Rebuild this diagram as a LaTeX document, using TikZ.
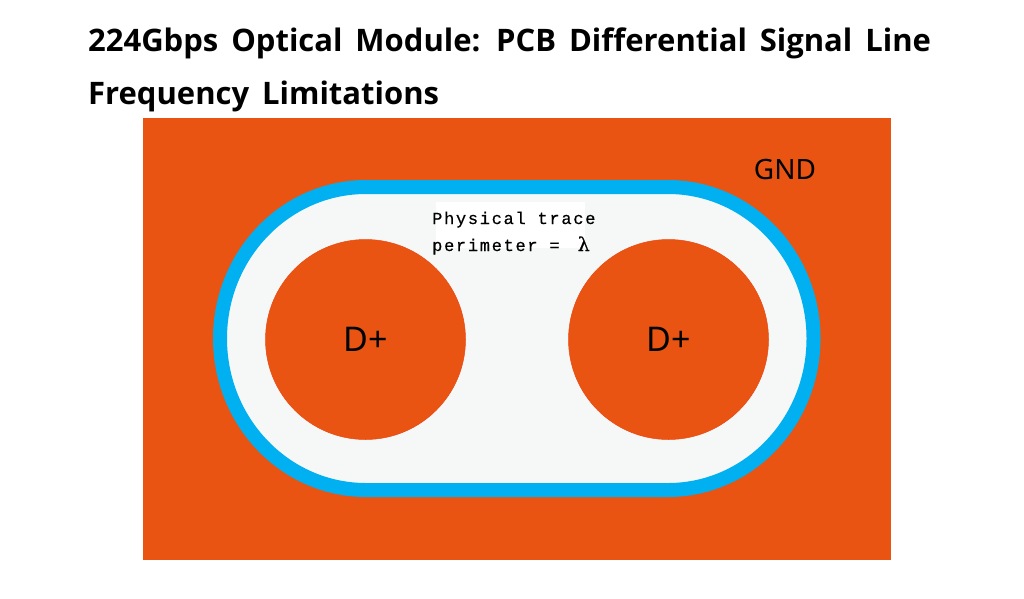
\documentclass[tikz,border=0pt]{standalone}
\usepackage{fontspec}
\setmainfont{Noto Sans}
\newfontfamily\titlef{Open Sans}[BoldFont={Open Sans Bold},WordSpace=1.6]
\newfontfamily\monof{Liberation Mono}[FakeBold=0.5]
\newfontfamily\dejaf{DejaVu Serif}[FakeBold=0.6]
\definecolor{gndc}{HTML}{E95413}
\definecolor{ringc}{HTML}{00B0F0}
\definecolor{padc}{HTML}{F6F8F8}
\tikzset{x=1pt,y=-1pt,
 titletext/.style={anchor=base west,inner sep=0pt,font=\titlef\bfseries\fontsize{31}{32}\selectfont},
 padlabel/.style={inner sep=0pt,font=\fontsize{34}{34}\selectfont},
 gndlabel/.style={inner sep=0pt,font=\fontsize{28}{28}\selectfont},
 via/.style={circle,fill=gndc,draw=gndc!85!red,line width=.5pt,minimum size=200pt,inner sep=0pt},
 trace/.style={anchor=base west,inner sep=0pt,font=\monof\fontsize{17}{17}\selectfont\addfontfeature{LetterSpace=10}}}
\begin{document}
\begin{tikzpicture}
\useasboundingbox (0,0) rectangle (1024,598);
\fill[white] (0,0) rectangle (1024,598);
\node[titletext] (t1) at (88,51) {224Gbps Optical Module: PCB Differential Signal Line};
\node[titletext] (t2) at (88,104) {Frequency Limitations};
\fill[gndc] (142.5,118) rectangle (890.5,560);
\draw[fill=padc,draw=ringc,line width=14pt] (366,187) -- (668,187) arc[start angle=-90,end angle=90,x radius=145.5,y radius=151.5] -- (366,490) arc[start angle=90,end angle=270,x radius=146,y radius=151.5] -- cycle;
\fill[white] (436,202) rectangle (585,248);
\node[via] (a) at (365.5,339.5) {};
\node[via] (b) at (668.5,339.5) {};
\node[padlabel] at (a) {D+};
\node[padlabel] at (b) {D+};
\node[gndlabel] (g) at (785,169) {GND};
\node[trace] (l1) at (432,224) {Physical trace};
\node[trace] (l2) at (432,251) {perimeter =\hspace{18pt}{\dejaf\fontsize{19}{19}\selectfont λ}};
\end{tikzpicture}
\end{document}
